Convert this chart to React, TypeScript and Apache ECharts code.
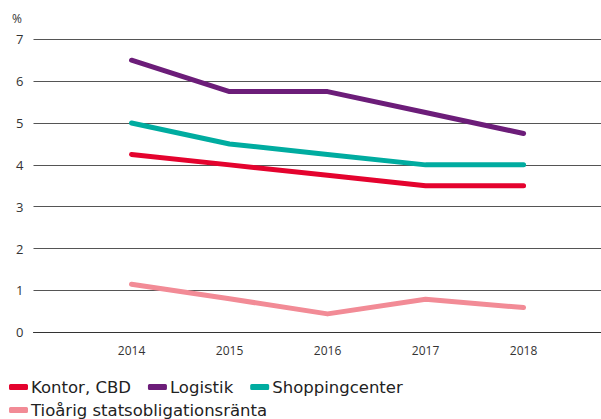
import React, { useEffect, useRef } from "react";
import * as echarts from "echarts";

const years = [2014, 2015, 2016, 2017, 2018];
const kontor = [4.25, 4.0, 3.75, 3.5, 3.5];
const logistik = [6.5, 5.75, 5.75, 5.25, 4.75];
const shopping = [5.0, 4.5, 4.25, 4.0, 4.0];
const tioarig = [1.15, 0.8, 0.44, 0.79, 0.59];
const seriesNames = ["Kontor, CBD", "Logistik", "Shoppingcenter", "Tioårig statsobligationsränta"];
const colors = ["#e4032e", "#6c1d79", "#00aca0", "#f28b96"];

const FONT = "Open Sans";

export default function App() {
  const ref = useRef<HTMLDivElement>(null);
  useEffect(() => {
    if (!ref.current) return;
    const chart = echarts.init(ref.current, undefined, { renderer: "svg" });
    const datasets = [kontor, logistik, shopping, tioarig];
    const legendBase = {
      left: 9,
      itemWidth: 19,
      itemHeight: 6,
      itemGap: 17,
      padding: 0,
      icon: "roundRect",
      textStyle: {
        fontSize: 16.5,
        color: "#222",
        fontFamily: "DejaVu Sans",
        lineHeight: 18,
        padding: [0, 0, 0, -2],
      },
    };
    chart.setOption({
      animation: false,
      textStyle: { fontFamily: FONT },
      grid: { left: 33.5, right: 0, top: 39.3, bottom: 86.7, containLabel: false },
      graphic: [
        {
          type: "text",
          left: 12,
          top: 12,
          style: { text: "%", fontSize: 12, fill: "#333", fontFamily: FONT },
        },
      ],
      legend: [
        { ...legendBase, top: 378, data: seriesNames.slice(0, 3) },
        { ...legendBase, top: 401, data: seriesNames.slice(3) },
      ],
      xAxis: {
        type: "value",
        min: 2013,
        max: 2018.79,
        interval: 1,
        axisLine: { show: true, lineStyle: { color: "#333", width: 1 } },
        axisTick: { show: false },
        splitLine: { show: false },
        axisLabel: {
          color: "#333",
          fontSize: 12,
          margin: 12,
          showMinLabel: false,
          showMaxLabel: false,
          formatter: (v: number) => (years.includes(v) ? String(v) : ""),
        },
      },
      yAxis: {
        type: "value",
        min: 0,
        max: 7,
        interval: 1,
        axisLine: { show: false },
        axisTick: { show: false },
        splitLine: { show: true, lineStyle: { color: "#555", width: 1 } },
        axisLabel: { color: "#333", fontSize: 13, margin: 10 },
      },
      series: datasets.map((d, i) => ({
        name: seriesNames[i],
        type: "line",
        data: years.map((y, j) => [y, d[j]]),
        showSymbol: false,
        symbol: "none",
        color: colors[i],
        lineStyle: { width: 5, color: colors[i], cap: "round", join: "round" },
        itemStyle: { color: colors[i] },
      })),
    });
    return () => chart.dispose();
  }, []);
  return <div ref={ref} style={{ width: 601, height: 419, position: "absolute", left: 0, top: 0 }} />;
}
